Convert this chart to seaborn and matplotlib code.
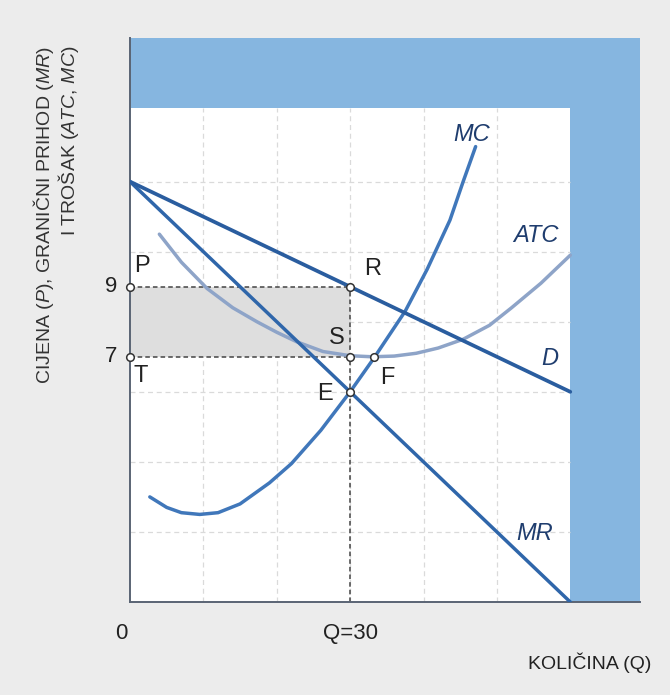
import numpy as np
import pandas as pd
import matplotlib
matplotlib.use("Agg")
import matplotlib.pyplot as plt
import seaborn as sns
from matplotlib.patches import Rectangle

# ---------------- data ----------------
q_d = [0, 30, 60]
p_d = [12, 9, 6]
q_mr = [0, 30, 60]
p_mr = [12, 6, 0]
q_mc = [2.7, 5, 7, 9.5, 12, 15, 19, 22, 26, 30, 33.2, 37.5, 40.5, 43.6, 45.4, 47.1]
p_mc = [3.0, 2.7, 2.55, 2.5, 2.55, 2.8, 3.4, 3.95, 4.9, 6.0, 6.95, 8.3, 9.5, 10.9, 12.0, 13.0]
q_atc = [4, 7, 10.5, 14, 17.3, 20, 22.7, 26.3, 30, 33, 36, 39, 42, 45.4, 49, 52, 56, 60]
p_atc = [10.5, 9.7, 8.95, 8.4, 8.0, 7.7, 7.43, 7.15, 7.03, 7.0, 7.02, 7.1, 7.25, 7.5, 7.9, 8.4, 9.1, 9.9]

pt_names = ["P", "R", "S", "T", "E", "F"]
pt_q = [0, 30, 30, 0, 30, 33.2]
pt_p = [9, 9, 7, 7, 6, 7]

x_ticks = [10, 20, 30, 40, 50, 60]
y_ticks = [2, 4, 6, 8, 10, 12]
x_tick_labels = ["0", "Q=30"]
x_tick_label_pos = [0, 30]
y_tick_labels = ["9", "7"]
y_tick_label_pos = [9, 7]

curve_labels = ["MC", "ATC", "D", "MR"]

# ---------------- style ----------------
sns.set_style("white")
plt.rcParams["font.family"] = ["Liberation Sans", "DejaVu Sans"]
plt.rcParams["mathtext.fontset"] = "custom"
plt.rcParams["mathtext.rm"] = "Liberation Sans"
plt.rcParams["mathtext.it"] = "Liberation Sans:italic"

BLUE_BAND = "#86b6e0"
C_D = "#2a5d9f"
C_MR = "#2f66aa"
C_MC = "#4077ba"
C_ATC = "#8ea4c8"
C_LAB = "#1f3d6e"
C_TXT = "#222222"
C_AX = "#5a6474"

fig = plt.figure(figsize=(6.7, 6.95), dpi=100, facecolor="#ececec")
ax = fig.add_axes([130 / 670, (695 - 602) / 695, 510 / 670, (602 - 38) / 695])
ax.set_facecolor(BLUE_BAND)
ax.set_xlim(0, 69.5)
ax.set_ylim(0, 16.1)

# white plotting area
ax.add_patch(Rectangle((0, 0), 60, 14.1, facecolor="white", edgecolor="none", zorder=0.5))

# grid
for gx in x_ticks[:-1]:
    ax.plot([gx, gx], [0, 14.1], ls=(0, (4, 3)), color="#dadada", lw=0.9, zorder=0.7)
for gy in y_ticks:
    ax.plot([0, 60], [gy, gy], ls=(0, (4, 3)), color="#dadada", lw=0.9, zorder=0.7)

# shaded profit rectangle
ax.add_patch(Rectangle((pt_q[3], pt_p[3]), pt_q[1] - pt_q[0], pt_p[0] - pt_p[3],
                       facecolor="#dedede", edgecolor="none", zorder=0.8))

# dashed guide lines
ax.plot([pt_q[0], pt_q[1]], [pt_p[0], pt_p[1]], ls=(0, (3, 2)), color="#444444", lw=1.1, zorder=1)
ax.plot([pt_q[3], pt_q[2]], [pt_p[3], pt_p[2]], ls=(0, (3, 2)), color="#444444", lw=1.1, zorder=1)
ax.plot([pt_q[1], pt_q[1]], [0, pt_p[1]], ls=(0, (3, 2)), color="#444444", lw=1.1, zorder=1)

# curves
df_mc = pd.DataFrame({"Q": q_mc, "P": p_mc})
df_atc = pd.DataFrame({"Q": q_atc, "P": p_atc})
df_d = pd.DataFrame({"Q": q_d, "P": p_d})
df_mr = pd.DataFrame({"Q": q_mr, "P": p_mr})
sns.lineplot(data=df_atc, x="Q", y="P", ax=ax, color=C_ATC, lw=2.5, sort=False, estimator=None, zorder=2)
sns.lineplot(data=df_mc, x="Q", y="P", ax=ax, color=C_MC, lw=2.5, sort=False, estimator=None, zorder=3)
sns.lineplot(data=df_mr, x="Q", y="P", ax=ax, color=C_MR, lw=2.5, sort=False, estimator=None, zorder=3)
sns.lineplot(data=df_d, x="Q", y="P", ax=ax, color=C_D, lw=2.7, sort=False, estimator=None, zorder=3)

# points
sns.scatterplot(x=pt_q, y=pt_p, ax=ax, s=30, facecolor="white", edgecolor="#333333",
                linewidth=1.1, zorder=5, clip_on=False)

# point labels
pt_off = {"P": (1.6, 0.6), "R": (3.1, 0.5), "S": (-1.8, 0.55), "T": (1.4, -0.55),
          "E": (-3.4, -0.05), "F": (1.8, -0.6)}
for n, q, p in zip(pt_names, pt_q, pt_p):
    dx, dy = pt_off[n]
    ax.text(q + dx, p + dy, n, fontsize=17, color=C_TXT, ha="center", va="center", zorder=6)

# curve labels
lab_pos = {"MC": (46.5, 13.35), "ATC": (55.3, 10.45), "D": (57.2, 6.95), "MR": (55.2, 1.95)}
for lab in curve_labels:
    x, y = lab_pos[lab]
    ax.text(x, y, lab, fontsize=17, style="italic", color=C_LAB, ha="center", va="center", zorder=6)

# axes
for s in ["top", "right"]:
    ax.spines[s].set_visible(False)
for s in ["left", "bottom"]:
    ax.spines[s].set_color(C_AX)
    ax.spines[s].set_linewidth(1.4)
ax.set_xticks(x_ticks)
ax.set_xticklabels([])
ax.set_yticks(y_ticks)
ax.set_yticklabels([])
ax.tick_params(axis="x", direction="in", length=8, width=1.3, color=C_AX)
ax.tick_params(axis="y", direction="inout", length=10, width=1.3, color=C_AX)
ax.set_xlabel("")
ax.set_ylabel("")

for lab, q in zip(x_tick_labels, x_tick_label_pos):
    xx = q - 1.2 if q == 0 else q
    ax.text(xx, -0.9, lab, fontsize=16, color=C_TXT, ha="center", va="center", clip_on=False)
for lab, p in zip(y_tick_labels, y_tick_label_pos):
    ax.text(-2.6, p, lab, fontsize=16, color=C_TXT, ha="center", va="center", clip_on=False)

# axis titles
fig.text(590 / 670, 1 - 663 / 695, "KOLIČINA (Q)", fontsize=14, color=C_TXT, ha="center", va="center")
fig.text(56 / 670, 1 - 46 / 695,
         "CIJENA ($\\mathit{P}$), GRANIČNI PRIHOD ($\\mathit{MR}$)\nI TROŠAK ($\\mathit{ATC}$, $\\mathit{MC}$)",
         fontsize=14, color="#333333", rotation=90, ha="center", va="top",
         multialignment="right", linespacing=0.95)

fig.savefig("out.png", dpi=100, facecolor=fig.get_facecolor())
